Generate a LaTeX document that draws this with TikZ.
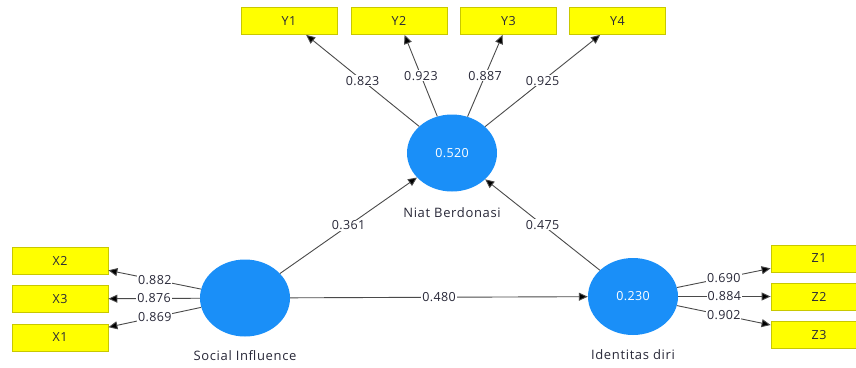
\documentclass[tikz,border=0pt]{standalone}
\usepackage{fontspec}
\setmainfont{Open Sans}
\newfontfamily\numfont[LetterSpace=3]{Open Sans}
\newfontfamily\namefont[LetterSpace=5]{Open Sans}
\usetikzlibrary{arrows.meta,shapes.geometric}
\definecolor{lvblue}{HTML}{1A8FF8}
\definecolor{ind}{HTML}{FFFF00}
\definecolor{indline}{HTML}{C8C800}
\definecolor{edge}{HTML}{4A4A4A}
\definecolor{txt}{HTML}{282838}
\begin{document}
\begin{tikzpicture}[x=1pt,y=-1pt,
  latent/.style={ellipse,fill=lvblue,draw=none,minimum width=90pt,minimum height=77pt,inner sep=0pt,text=white,font=\numfont\fontsize{12.5}{14}\selectfont},
  indic/.style={rectangle,fill=ind,draw=indline,line width=0.8pt,minimum width=96pt,minimum height=27pt,inner sep=0pt,text=txt,font=\namefont\fontsize{12.5}{14}\selectfont},
  lvname/.style={text=txt,font=\namefont\fontsize{13}{15}\selectfont},
  path/.style={draw=edge,line width=0.9pt,-{Triangle[length=9pt,width=8pt,fill=black]}},
  wt/.style={fill=white,inner sep=1pt,text=txt,pos=0.5,font=\numfont\fontsize{12.5}{14}\selectfont}
]
\useasboundingbox (0,0) rectangle (856,367);
\clip (0,0) rectangle (856,367);
\fill[white] (0,0) rectangle (856,367);
% latent variables
\node[latent] (niat) at (452,153) {0.520};
\node[latent] (soc) at (245,298) {};
\node[latent] (ide) at (633,296.5) {0.230};
\node[lvname] (niatl) at (452,213) {Niat Berdonasi};
\node[lvname] (socl) at (245,356) {Social Influence};
\node[lvname] (idel) at (633,355) {Identitas diri};
% indicators
\node[indic] (Y1) at (289,21) {Y1};
\node[indic] (Y2) at (399,21) {Y2};
\node[indic] (Y3) at (508.5,21) {Y3};
\node[indic] (Y4) at (617.5,21) {Y4};
\node[indic] (X2) at (60,260.5) {X2};
\node[indic] (X3) at (60,299) {X3};
\node[indic] (X1) at (60,337.5) {X1};
\node[indic] (Z1) at (819,258.5) {Z1};
\node[indic] (Z2) at (819,296.5) {Z2};
\node[indic] (Z3) at (819,335) {Z3};
% outer loadings
\draw[path] (niat) -- node[wt]{0.823} (Y1);
\draw[path] (niat) -- node[wt]{0.923} (Y2);
\draw[path] (niat) -- node[wt]{0.887} (Y3);
\draw[path] (niat) -- node[wt]{0.925} (Y4);
\draw[path] (soc) -- node[wt]{0.882} (X2);
\draw[path] (soc) -- node[wt]{0.876} (X3);
\draw[path] (soc) -- node[wt]{0.869} (X1);
\draw[path] (ide) -- node[wt]{0.690} (Z1);
\draw[path] (ide) -- node[wt]{0.884} (Z2);
\draw[path] (ide) -- node[wt]{0.902} (Z3);
% inner paths
\draw[path] (soc) -- node[wt]{0.361} (niat);
\draw[path] (ide) -- node[wt]{0.475} (niat);
\draw[path] (soc) -- node[wt]{0.480} (ide);
\end{tikzpicture}
\end{document}
